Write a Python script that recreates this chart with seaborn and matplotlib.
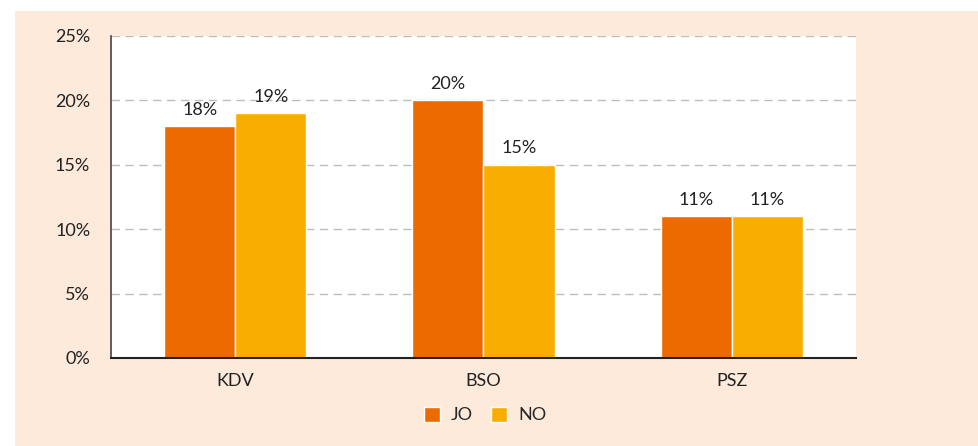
import pandas as pd
import seaborn as sns
import matplotlib.pyplot as plt
from matplotlib.patches import Rectangle

# values (percent)
categories = ["KDV", "BSO", "PSZ"]
jo_values = [18, 20, 11]
no_values = [19, 15, 11]
series_names = ["JO", "NO"]
y_ticks = [0, 5, 10, 15, 20, 25]

colors = ["#ec6a00", "#f9ad00"]
bg_color = "#fdeadb"

df = pd.DataFrame({
    "cat": categories * 2,
    "value": jo_values + no_values,
    "series": [series_names[0]] * 3 + [series_names[1]] * 3,
})

sns.set_style("white")
plt.rcParams["font.family"] = ["Lato", "DejaVu Sans"]

fig = plt.figure(figsize=(9.79, 4.46), dpi=100)
fig.patch.set_facecolor("white")
# peach panel behind everything
fig.patches.append(Rectangle((15 / 979, 0), 1, 1 - 11 / 446, transform=fig.transFigure,
                             facecolor=bg_color, edgecolor="none", zorder=-10))

ax = fig.add_axes([111 / 979, 88 / 446, 745 / 979, 322 / 446])
ax.set_facecolor("white")

sns.barplot(data=df, x="cat", y="value", hue="series", palette=colors,
            width=0.573, saturation=1, ax=ax, legend=True)

for cont in ax.containers:
    ax.bar_label(cont, labels=[f"{v:.0f}%" for v in cont.datavalues],
                 padding=6, fontsize=13, color="#222222")

ax.set_ylim(0, 25)
ax.set_yticks(y_ticks)
ax.set_yticklabels([f"{t}%" for t in y_ticks], fontsize=13, color="#222222")
ax.set_xlim(-0.5, 2.5)
ax.set_xticks([0, 1, 2])
ax.set_xticklabels(categories, fontsize=13, color="#222222")
ax.tick_params(axis="x", length=0, pad=11)
ax.set_xticks([-0.5, 0.5, 1.5, 2.5], minor=True)
ax.tick_params(axis="x", which="minor", length=6, width=1.5, color="#222222", direction="out")
ax.tick_params(axis="y", length=7, width=1.2, color="#444444", direction="out", pad=8)

ax.yaxis.grid(True, linestyle=(0, (6, 4)), color="#bdbdbd", linewidth=1)
ax.set_axisbelow(True)
ax.set_xlabel("")
ax.set_ylabel("")

for side in ["top", "right"]:
    ax.spines[side].set_visible(False)
ax.spines["left"].set_color("#444444")
ax.spines["left"].set_linewidth(1.2)
ax.spines["bottom"].set_color("#222222")
ax.spines["bottom"].set_linewidth(1.5)

handles, labels = ax.get_legend_handles_labels()
ax.legend_.remove()
fig.legend(handles, labels, loc="center", bbox_to_anchor=(485 / 979, 1 - 415 / 446),
           ncol=2, frameon=False, fontsize=13, handlelength=0.9, handleheight=0.9,
           handletextpad=0.6, columnspacing=1.0)

fig.savefig("out.png", dpi=100)
